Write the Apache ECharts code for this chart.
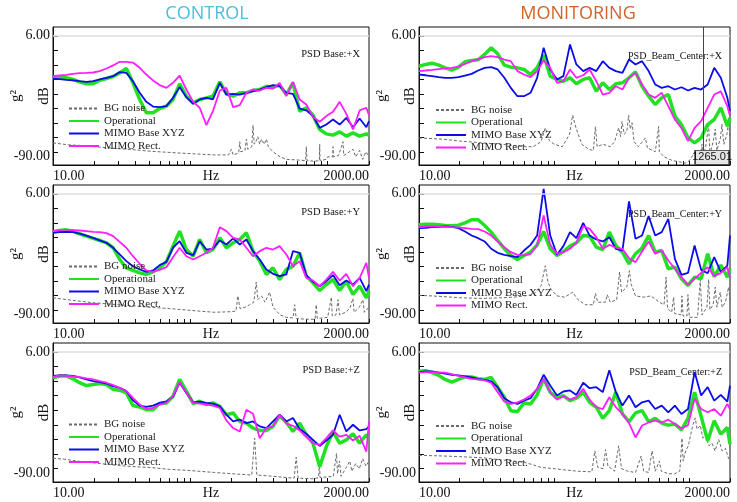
<!DOCTYPE html>
<html>
<head>
<meta charset="utf-8">
<script src="https://cdn.jsdelivr.net/npm/echarts@6/dist/echarts.min.js"></script>
<style>
html, body { margin: 0; padding: 0; background: #fff; }
#chart { width: 737px; height: 502px; }
</style>
</head>
<body>
<div id="chart"></div>
<script>
// frequency grid shared by the three measured curves (Hz)
var freq = [10, 11.2, 12.5, 14, 15.6, 17.5, 19.6, 21.9, 24.5, 27.4, 30.6, 34.2, 38.2, 42.8, 47.8, 53.5, 59.8, 66.9, 74.8, 83.6,
  93.5, 105, 117, 131, 146, 164, 183, 205, 229, 256, 286, 320, 358, 400, 447, 500, 559, 625, 699, 782,
  875, 978, 1094, 1223, 1367, 1529, 1710, 1912, 2000];

var xTicks = [10, 20, 30, 40, 50, 60, 70, 80, 90, 100, 200, 300, 400, 500, 600, 700, 800, 900, 1000, 2000];
var yTicks = [6, -5.5, -17, -28.5, -40, -51.5, -63, -74.5, -86];
var yLabels = [6, -90];
var cursorFreq = 1265.01;

// CONTROL +X
var tlOper = [-26.8,-27.1,-27.3,-28.6,-30.5,-32.1,-32.1,-29.2,-27.9,-26.3,-23.4,-19.9,-31.3,-44.5,-55.1,-55.1,-51.7,-49.8,-44.5,-32.1,-41.9,-47.2,-44.5,-43.2,-41.9,-30.5,-40,-41.9,-39.2,-39.2,-37.4,-36.6,-34,-34.8,-33.1,-40.6,-31.3,-53.8,-51.1,-57,-68.3,-71.8,-72.8,-70.2,-73.6,-71,-73.6,-71.8,-72.8];
var tlXyz = [-27.9,-28.4,-28.9,-29.4,-30,-30.5,-30,-28.6,-27.3,-26,-22.8,-23.4,-30,-39.2,-46.4,-50.1,-50.6,-49.8,-43.2,-34.7,-42.7,-48,-44.5,-43.2,-44.5,-31.3,-40.6,-40,-40.6,-39.2,-37.9,-36.6,-34.7,-33.1,-33.9,-39.2,-40,-51.7,-53.2,-57.7,-67,-64.4,-60.4,-64.4,-59.1,-66.5,-59.6,-66.5,-61.7];
var tlRect = [-26,-25.5,-25,-24.2,-23.6,-23.4,-23.1,-22,-19.9,-17.5,-14.6,-14.6,-15.2,-19.4,-24.7,-29.4,-33.1,-35.3,-31.3,-25.5,-36.6,-46.4,-51.1,-64.9,-53.8,-37.4,-35.3,-50.6,-49,-39.2,-36.6,-37.4,-35.3,-35.8,-31.3,-41.9,-30.5,-44.5,-48.5,-58.5,-62.2,-57.7,-54.3,-46.4,-55.9,-68.3,-53.2,-51.1,-57];
var tlBg = [[10,-79],[13,-80.5],[16,-81],[20,-82],[30,-83.5],[40,-84.5],[50,-85.5],[70,-86.5],[100,-87.5],[150,-88.5],[190,-88.5],[199,-84],[205,-88.5],[225,-87],[229,-78],[233,-86],[250,-85],[256,-76],[262,-84],[280,-82],[286,-65],[292,-80],[300,-78],[310,-74],[320,-80],[330,-76],[345,-80],[358,-76],[370,-82],[400,-86],[450,-90],[500,-92],[600,-92.5],[690,-93],[699,-82],[708,-93],[800,-93.5],[870,-93],[875,-80],[880,-93],[977,-92],[1000,-90],[1090,-90],[1094,-82],[1100,-90],[1200,-89],[1294,-78],[1310,-89],[1400,-87],[1528,-84],[1600,-90],[1710,-85],[1800,-92],[1900,-86],[2000,-90]];

// MONITORING +X
var trOper = [-18.1,-16.7,-15.7,-17.3,-19.4,-21.2,-18.9,-14.6,-13.6,-13,-8.8,-3.5,-8.3,-17.3,-18.9,-19.4,-20.7,-24.7,-19.4,-9.3,-26,-28.6,-30,-27.3,-32.1,-28.6,-27.3,-37.9,-31.3,-36.6,-32.1,-31.3,-27.3,-22.6,-34,-41.9,-48.5,-43.2,-40.6,-57.7,-64.4,-74.9,-78.9,-74.9,-64.4,-60.4,-51.1,-65.7,-59.1];
var trXyz = [-24.7,-25.3,-26,-26.8,-27.3,-27.3,-26.8,-25.5,-24.2,-21.5,-19.4,-18.9,-20.7,-27.3,-35.3,-41.9,-41.9,-39.2,-27.3,-3.5,-20.7,-28.6,-26,-0.9,-16.7,-22,-19.4,-22,-14.1,-19.4,-22,-23.4,-12.8,-16.7,-14.1,-22,-32.6,-35.3,-34,-36.6,-34.8,-37.4,-35.3,-36.6,-32.6,-19.4,-27.3,-43.2,-53.8];
var trRect = [-22,-21.5,-21,-20.4,-19.9,-19.4,-18.4,-16.2,-14.1,-12.5,-10.9,-10.1,-10.9,-12.8,-14.1,-22,-24.7,-26.8,-22,-13.6,-19.4,-31.3,-30,-20.7,-27.3,-25.3,-20.7,-30,-40.6,-39.2,-34,-36.6,-27.3,-23.4,-32.6,-40.6,-43.2,-39.2,-49.8,-60.4,-67.3,-77.6,-67,-61.7,-51.1,-40.6,-38.1,-49.8,-57.7];
var trBg = [[10,-75],[15,-76],[20,-77.5],[30,-79],[40,-80],[50,-81],[60,-82],[70,-82],[80,-78],[86,-67],[92,-77],[100,-80],[115,-82],[130,-72],[137,-57],[145,-67],[160,-80],[180,-84],[195,-85],[202,-66],[208,-82],[230,-80],[260,-82],[280,-78],[300,-67],[310,-74],[318,-62],[330,-72],[345,-70],[356,-57],[366,-68],[377,-63],[390,-78],[420,-82],[473,-75],[490,-83],[560,-86],[593,-66],[600,-86],[650,-90],[750,-93],[850,-94],[933,-95],[1000,-93],[1107,-86],[1120,-94],[1200,-92],[1241,-80],[1260,-92],[1320,-82],[1390,-65],[1420,-88],[1500,-78],[1556,-68],[1600,-85],[1700,-75],[1743,-64],[1800,-80],[1900,-72],[1953,-62],[2000,-75]];

// CONTROL +Y
var mlOper = [-24.2,-23.1,-22.6,-23.6,-25.7,-27.6,-29.4,-31,-32.9,-36.8,-46.1,-52.7,-54.8,-56.7,-58,-55.9,-52.7,-48,-35.5,-23.6,-38.2,-43.5,-30.2,-40.8,-38.2,-28.9,-36.8,-32.9,-30.2,-24.9,-39.5,-47.4,-58,-52.7,-62,-54,-51.4,-40.8,-59.3,-64.6,-70.7,-66,-62,-70.7,-63.3,-73.9,-67.3,-76.5,-71.2];
var mlXyz = [-25,-24.4,-24.2,-24.4,-25.5,-27.1,-28.9,-31,-32.9,-36.8,-42.1,-47.4,-51.4,-54,-55.9,-54.8,-50.6,-48,-36.8,-31.6,-40.8,-42.7,-31.6,-38.2,-37.4,-31,-34.2,-29.4,-34.2,-30.2,-39.5,-46.1,-54,-57.5,-59.3,-58,-39.5,-40.8,-58.5,-63.8,-67.3,-63.3,-58.5,-66.5,-62.8,-66,-60.7,-71.2,-66];
var mlRect = [-23.6,-22.6,-22.6,-22.8,-23.1,-23.6,-24.2,-24.4,-25.2,-27.6,-32.1,-36.8,-43.5,-49.5,-54.8,-55.9,-54.3,-52.2,-44.3,-36.8,-43.5,-46.1,-43.5,-40.8,-36.8,-20.5,-23.6,-28.9,-30.2,-36.8,-43.5,-39.5,-36.8,-38.2,-35.5,-42.1,-51.4,-47.4,-60.7,-62.8,-67.3,-62,-55.9,-62.8,-57.5,-67.3,-60.7,-48.8,-60.7];
var mlBg = [[10,-76.5],[15,-79],[20,-80.5],[30,-82],[40,-83],[50,-84],[70,-85],[100,-86.5],[150,-88],[200,-87.5],[215,-87],[222,-75],[230,-85],[250,-84],[270,-82],[290,-80],[302,-64],[310,-78],[330,-75],[350,-80],[378,-72],[400,-84],[450,-90],[500,-92],[560,-92.5],[575,-82],[590,-93],[700,-93.5],[810,-93.5],[826,-82],[840,-93],[1000,-92],[1065,-76],[1080,-91],[1150,-90],[1189,-78],[1220,-90],[1350,-88],[1450,-85],[1528,-77],[1560,-88],[1700,-84],[1807,-78],[1850,-88],[2000,-84]];

// MONITORING +Y
var mrOper = [-18.6,-18.1,-18.1,-18.6,-19.1,-19.4,-18.9,-17,-14.6,-14.6,-19.1,-24.4,-31,-37.6,-42.9,-46.1,-42.9,-40.3,-34.5,-23.9,-37.6,-42.9,-39.8,-35.5,-32.9,-27.1,-27.6,-36.3,-38.2,-24.4,-35,-40.3,-49.5,-41.6,-37.1,-27.1,-40.3,-39,-53.5,-52.2,-61.4,-66.7,-60.1,-61.4,-41.6,-59.8,-50.5,-60.1,-53.5];
var mrXyz = [-21.2,-21,-20.5,-20.2,-19.9,-20.2,-21.2,-23.9,-27.1,-29.2,-31.8,-37.6,-40.8,-42.4,-43.5,-44.3,-39,-34.5,-27.1,10,-27.1,-42.4,-35.5,-24.4,-29.2,-17,-27.1,-30.2,-31.8,-28.4,-37.6,-39,0,-29.7,-27.1,-11.7,-27.1,-24.4,-13.8,-45.6,-58.3,-56.7,-35,-54.3,-57,-44.3,-56.2,-50.9,-27.1];
var mrRect = [-20.5,-19.9,-19.7,-19.9,-20.2,-20.5,-20.7,-21.2,-21.8,-22,-23.9,-27.1,-31.8,-36.3,-40.3,-42.4,-42.9,-41.6,-35,-11.2,-34.5,-41.6,-40.3,-37.6,-32.9,-19.7,-21.8,-28.4,-37.6,-34.5,-36.6,-37.6,-45.2,-48.2,-39.8,-31.8,-41.6,-39,-46.9,-53.5,-60.1,-66.2,-61.4,-56.7,-52.2,-59.3,-56.7,-52.2,-60.1];
var mrBg = [[10,-74.5],[15,-75.5],[20,-76.5],[30,-77],[40,-76.5],[50,-76],[60,-75],[70,-74],[80,-67],[86,-51],[90,-64],[95,-70],[105,-75],[120,-76],[137,-72],[150,-78],[170,-82],[195,-82],[202,-73],[210,-80],[240,-80],[247,-74],[260,-80],[290,-78],[305,-56],[315,-72],[345,-68],[360,-55],[372,-66],[400,-75],[460,-76],[520,-75],[600,-80],[650,-82],[673,-60],[690,-85],[740,-88],[766,-76],[780,-89],[870,-90],[882,-75],[900,-91],[960,-91],[977,-74],[1000,-92],[1150,-92],[1206,-62],[1240,-90],[1350,-84],[1390,-62],[1420,-86],[1500,-82],[1556,-68],[1600,-84],[1694,-72],[1750,-84],[1850,-80],[1953,-68],[2000,-78]];

// CONTROL +Z
var blOper = [-14.4,-13,-13,-15.2,-18.3,-20.5,-19.7,-18.9,-19.7,-23.6,-24.2,-26.3,-36.3,-37.4,-39.5,-39.5,-34.7,-34.2,-28.9,-15.7,-24.9,-34.7,-32.9,-35.5,-34.2,-36.8,-43.5,-42.1,-48.8,-50.1,-54,-55.9,-55.9,-52.7,-44.3,-49.5,-56.7,-50.1,-59.3,-66,-84.5,-68.6,-56.7,-66,-63.3,-58.5,-66,-59.3,-62];
var blXyz = [-13,-12.5,-12.5,-13,-14.1,-15.7,-17,-17.8,-18.9,-21,-22.3,-24.9,-32.1,-36.3,-37.4,-36.3,-34.2,-32.9,-29.4,-18.3,-26.3,-33.7,-33.1,-34.2,-34.7,-36.8,-43.5,-48.8,-47.4,-50.1,-48.8,-52.7,-54,-48.8,-43.5,-48.8,-46.1,-54.8,-58.5,-63.3,-68.1,-63.8,-59.3,-43.5,-56.7,-51.4,-55.9,-54.8,-52.7];
var blRect = [-13.6,-12.5,-12.8,-13.3,-13.8,-14.9,-15.7,-17,-18.3,-20.2,-22.3,-24.9,-30.2,-35.5,-39,-38.2,-35.5,-34.2,-28.9,-17.8,-26.3,-34.2,-34.7,-35.5,-36.3,-38.2,-48,-54,-56.7,-39.5,-42.7,-62,-54,-52.7,-43.5,-50.6,-52.2,-55.9,-61.2,-66,-67.3,-62,-55.9,-60.7,-59.3,-63.8,-60.1,-72.6,-48.8];
var blBg = [[10,-77.8],[12,-78.5],[15,-80],[20,-81.5],[30,-83.5],[40,-84.5],[50,-85],[70,-86.5],[100,-87.5],[150,-89],[200,-90],[280,-91],[294,-62],[305,-91],[400,-92],[500,-93],[570,-93.5],[590,-77],[610,-93.5],[800,-94],[860,-93],[870,-80],[880,-93],[1100,-92],[1160,-74],[1180,-90],[1220,-80],[1250,-92],[1350,-86],[1450,-80],[1500,-88],[1600,-82],[1700,-86],[1800,-78],[1900,-84],[2000,-80]];

// MONITORING +Z
var brOper = [-9.3,-8.8,-10.4,-12.5,-15.7,-17.8,-15.7,-13.6,-13.8,-15.2,-15.7,-14.1,-21.8,-29.7,-40.3,-41.1,-34.2,-35,-27.9,-15.2,-25.7,-30.5,-28.4,-32.4,-30.5,-25.7,-33.7,-37.6,-46.4,-40.3,-25.7,-42.9,-49,-42.1,-40.3,-49,-46.4,-50.1,-51.7,-50.9,-55.4,-46.4,-25.7,-44.8,-64.1,-48.2,-58.8,-53.5,-66.7];
var brXyz = [-9.9,-9.3,-9.3,-10.4,-11.2,-12,-12.5,-13.3,-14.1,-15.2,-16,-17.3,-21.8,-30.5,-33.7,-35,-32.4,-30.5,-23.1,-12,-20.5,-28.4,-25.2,-24.4,-27.9,-18.3,-22.6,-21.8,-25.7,-8.5,-25.7,-36.3,-28.4,-37.6,-33.7,-32.4,-39,-36.3,-41.6,-36.3,-42.9,-39,-9.9,-28.4,-21.8,-32.4,-27.9,-33.2,-20.5];
var brRect = [-10.4,-9.9,-9.9,-10.1,-10.4,-11.5,-13,-14.1,-15.2,-15.7,-16.5,-18.3,-25.7,-33.2,-35,-33.7,-31.6,-28.4,-23.1,-15.2,-25.7,-31.6,-28.9,-31.6,-29.7,-23.1,-31.6,-37.6,-39,-29.7,-37.6,-42.9,-50.1,-61.4,-52,-49.6,-48.2,-49.6,-47.4,-50.9,-54.3,-51.7,-31,-39,-41.6,-39,-44.3,-35,-39];
var brBg = [[10,-75.5],[15,-76],[20,-76.5],[30,-77.5],[40,-79],[50,-80],[60,-81],[70,-83],[80,-85],[100,-86],[120,-87],[150,-88],[190,-88.5],[200,-72],[210,-85],[230,-86],[240,-71],[250,-84],[280,-88],[300,-68],[315,-86],[350,-88],[400,-89],[440,-76],[460,-88],[500,-89],[530,-72],[560,-88],[600,-80],[620,-88],[700,-90],[780,-90],[850,-88],[883,-62],[900,-80],[940,-72],[983,-68],[1020,-60],[1060,-52],[1107,-46],[1140,-55],[1206,-52],[1260,-62],[1313,-60],[1400,-68],[1470,-66],[1550,-72],[1650,-63],[1750,-72],[1852,-70],[1950,-78],[2000,-76]];

var seriesNames = ['BG noise', 'Operational', 'MIMO Base XYZ', 'MIMO Rect.'];
var seriesColors = ['#6a6a6a', '#22e022', '#0c0ce8', '#ff1eff'];
var serif = 'Liberation Serif';

var panels = [
  { label: 'PSD Base:+X', bg: tlBg, oper: tlOper, xyz: tlXyz, rect: tlRect },
  { label: 'PSD_Beam_Center:+X', bg: trBg, oper: trOper, xyz: trXyz, rect: trRect, cursor: true },
  { label: 'PSD Base:+Y', bg: mlBg, oper: mlOper, xyz: mlXyz, rect: mlRect },
  { label: 'PSD_Beam_Center:+Y', bg: mrBg, oper: mrOper, xyz: mrXyz, rect: mrRect },
  { label: 'PSD Base:+Z', bg: blBg, oper: blOper, xyz: blXyz, rect: blRect },
  { label: 'PSD_Beam_Center:+Z', bg: brBg, oper: brOper, xyz: brXyz, rect: brRect }
];
var boxes = [
  { left: 53, top: 27, width: 316, height: 138 },
  { left: 419, top: 27, width: 311, height: 138 },
  { left: 53, top: 185, width: 316, height: 138 },
  { left: 419, top: 185, width: 311, height: 138 },
  { left: 53, top: 343, width: 316, height: 139 },
  { left: 419, top: 343, width: 311, height: 139 }
];

function onGrid(ys) {
  return freq.map(function (f, i) { return [f, ys[i]]; });
}

var grids = [], xAxes = [], yAxes = [], series = [], legends = [], graphics = [];

graphics.push({ type: 'text', x: 207, y: 14, style: { text: 'CONTROL', font: '18px "Open Sans"', fill: '#4cbfd8', align: 'center', verticalAlign: 'middle' } });
graphics.push({ type: 'text', x: 578, y: 14, style: { text: 'MONITORING', font: '18px "Open Sans"', fill: '#d0642c', align: 'center', verticalAlign: 'middle' } });

boxes.forEach(function (b, i) {
  var p = panels[i];
  var right = i % 2 === 1;
  grids.push({ left: b.left, top: b.top, width: b.width, height: b.height, show: true,
    outerBoundsMode: 'none', containLabel: false,
    borderColor: '#111', borderWidth: 1, backgroundColor: '#fff' });

  xAxes.push({
    type: 'log', logBase: 10, min: 10, max: 2000, gridIndex: i, position: 'bottom',
    axisLine: { onZero: false, lineStyle: { color: '#111', width: 1 } },
    axisTick: { inside: true, length: 4, customValues: xTicks, lineStyle: { color: '#111' } },
    splitLine: { show: false },
    axisLabel: {
      interval: 0, showMinLabel: true, showMaxLabel: true, alignMinLabel: 'left', alignMaxLabel: 'right',
      hideOverlap: false, margin: 4, fontFamily: serif, fontSize: 14, color: '#111',
      formatter: function (v) { var r = Math.round(v); return (r === 10 || r === 2000) ? r.toFixed(2) : ''; }
    },
    name: 'Hz', nameLocation: 'middle', nameGap: 4, nameMoveOverlap: false,
    nameTextStyle: { fontFamily: serif, fontSize: 14, color: '#111', verticalAlign: 'top' }
  });

  yAxes.push({
    type: 'value', min: -96.5, max: 13, gridIndex: i,
    axisLine: { show: true, onZero: false, lineStyle: { color: '#111' } },
    axisTick: { show: true, inside: true, length: 5, customValues: yTicks, lineStyle: { color: '#111' } },
    axisLabel: { customValues: yLabels, margin: 3, fontFamily: serif, fontSize: 14, color: '#111',
      formatter: function (v) { return v.toFixed(2); } },
    splitLine: { show: false },
    name: 'g²\ndB', nameLocation: 'middle', nameGap: -5, nameMoveOverlap: false,
    nameTextStyle: { fontFamily: serif, fontSize: 15, lineHeight: 28, color: '#111' }
  });

  var bgSeries = {
    type: 'line', name: seriesNames[0], xAxisIndex: i, yAxisIndex: i, data: p.bg,
    symbol: 'none', color: seriesColors[0], lineStyle: { color: seriesColors[0], width: 1, type: [3, 2] },
    markLine: { silent: true, symbol: 'none', label: { show: false },
      lineStyle: { color: '#dcdcdc', width: 1.5, type: 'solid' }, data: [{ yAxis: 6 }] }
  };
  series.push(bgSeries);
  series.push({ type: 'line', name: seriesNames[1], xAxisIndex: i, yAxisIndex: i, data: onGrid(p.oper),
    symbol: 'none', color: seriesColors[1], lineStyle: { color: seriesColors[1], width: 3.5 } });
  series.push({ type: 'line', name: seriesNames[2], xAxisIndex: i, yAxisIndex: i, data: onGrid(p.xyz),
    symbol: 'none', color: seriesColors[2], lineStyle: { color: seriesColors[2], width: 1.8 } });
  var rectSeries = { type: 'line', name: seriesNames[3], xAxisIndex: i, yAxisIndex: i, data: onGrid(p.rect),
    symbol: 'none', color: seriesColors[3], lineStyle: { color: seriesColors[3], width: 1.8 } };
  if (p.cursor) {
    rectSeries.markLine = { silent: true, symbol: 'none', label: { show: false },
      lineStyle: { color: '#444', width: 1, type: 'solid' }, data: [{ xAxis: cursorFreq }] };
    rectSeries.markPoint = { silent: true, symbol: 'rect', symbolSize: [34, 14], symbolOffset: [9, 0],
      itemStyle: { color: '#e4e4e4', borderColor: '#333', borderWidth: 1 },
      label: { show: true, position: 'inside', formatter: String(cursorFreq),
        fontFamily: 'Liberation Sans', fontSize: 11, color: '#111' },
      data: [{ coord: [cursorFreq, -90.4] }] };
  }
  series.push(rectSeries);

  legends.push({
    orient: 'vertical', left: b.left + (right ? 16 : 15), top: b.top + (right ? 77.5 : 76),
    padding: 0, itemWidth: 30, itemHeight: 12, itemGap: 1.5, selectedMode: false,
    itemStyle: { color: 'rgba(0,0,0,0)', borderWidth: 0 },
    textStyle: { fontFamily: serif, fontSize: 11, color: '#222' },
    data: seriesNames
  });

  graphics.push({ type: 'text', x: b.left + b.width - (right ? 8 : 9), y: b.top + (right ? 29.5 : 27.5),
    style: { text: p.label, font: (right ? '10px' : '10.5px') + ' "Liberation Serif"', fill: '#111',
      align: 'right', verticalAlign: 'middle' } });
});

var chart = echarts.init(document.getElementById('chart'), null, { renderer: 'canvas' });
chart.setOption({
  animation: false,
  backgroundColor: '#fff',
  grid: grids,
  xAxis: xAxes,
  yAxis: yAxes,
  legend: legends,
  series: series,
  graphic: graphics
});
</script>
</body>
</html>
